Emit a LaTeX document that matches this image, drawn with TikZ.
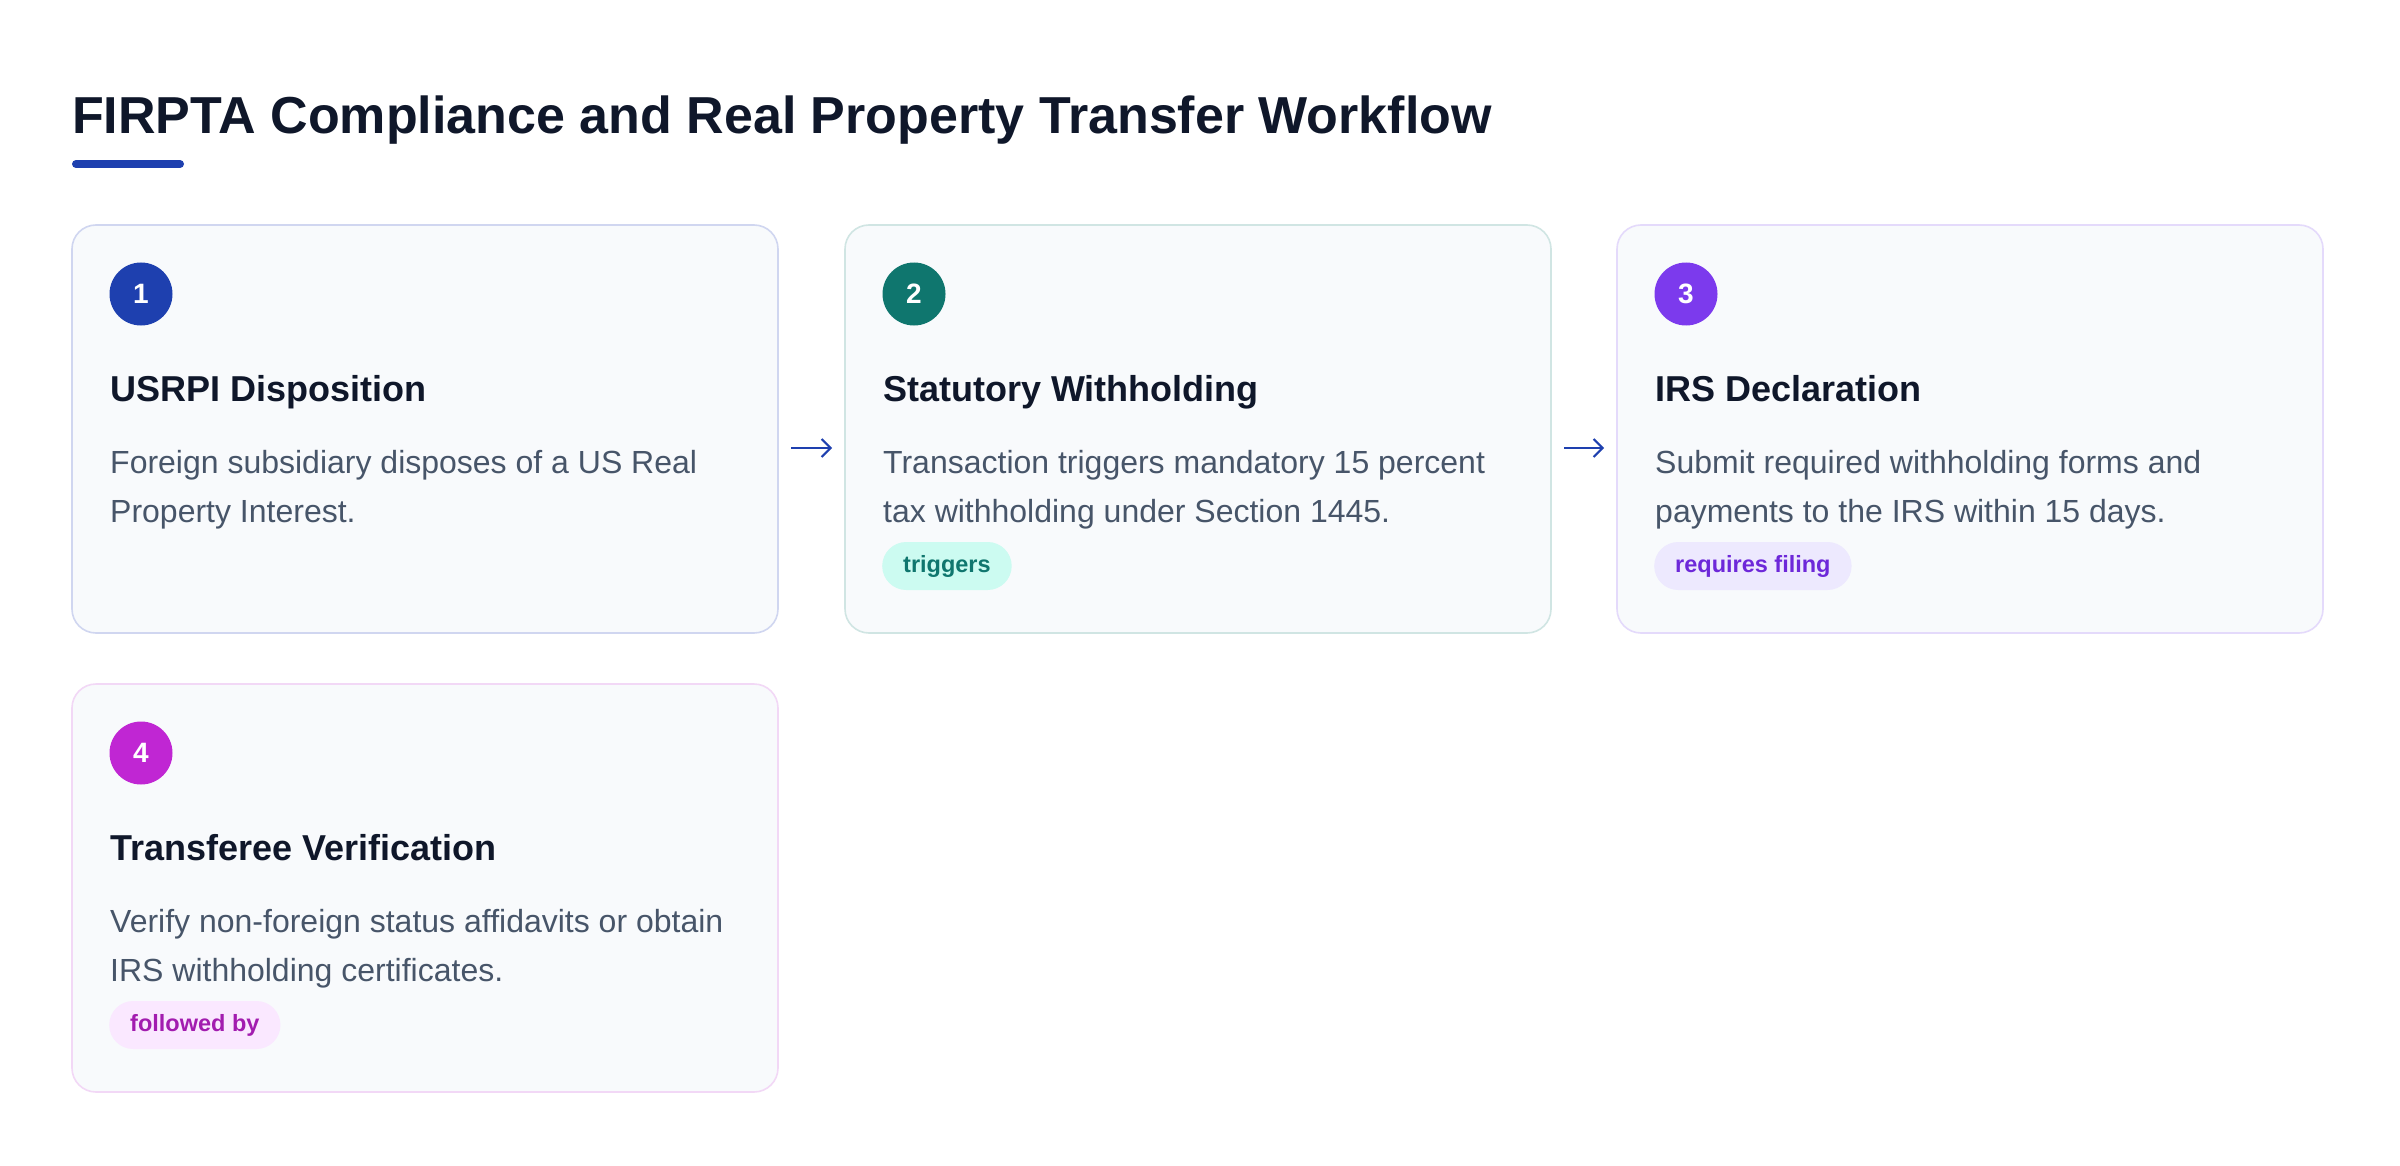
\documentclass[tikz,border=0pt]{standalone}
\usepackage{fontspec}
\setmainfont{Liberation Sans}
\usetikzlibrary{calc,arrows.meta}
\definecolor{ink}{HTML}{0F172A}
\definecolor{desc}{HTML}{475569}
\definecolor{cardbg}{HTML}{F8FAFC}
\definecolor{cblue}{HTML}{1E40AF}
\definecolor{cteal}{HTML}{0F766E}
\definecolor{cviolet}{HTML}{7C3AED}
\definecolor{cpink}{HTML}{C026D3}
\definecolor{bblue}{HTML}{D0D6F0}
\definecolor{bteal}{HTML}{D0E5E3}
\definecolor{bviolet}{HTML}{E4DAFB}
\definecolor{bpink}{HTML}{F2D8F6}
\definecolor{gteal}{HTML}{CCFBF1}
\definecolor{tteal}{HTML}{0F766E}
\definecolor{gviolet}{HTML}{EDE9FE}
\definecolor{tviolet}{HTML}{6D28D9}
\definecolor{gpink}{HTML}{FAE8FF}
\definecolor{tpink}{HTML}{A21CAF}
\tikzset{
  card/.style={draw=#1, line width=1.6pt, fill=cardbg, rounded corners=24pt,
    minimum width=706pt, minimum height=408pt, anchor=north west, inner sep=0pt, outer sep=0pt},
  numdot/.style={circle, fill=#1, minimum size=63pt, inner sep=0pt, text=white,
    font=\fontsize{28}{28}\selectfont\bfseries},
  heading/.style={anchor=base west, inner sep=0pt, text=ink, font=\fontsize{36}{42}\selectfont\bfseries},
  descline/.style={anchor=base west, inner sep=0pt, text=desc, font=\fontsize{32}{49}\selectfont},
  badge/.style={fill=#1, rounded corners=24pt, minimum height=48pt, inner xsep=21pt, inner ysep=0pt,
    anchor=west, font=\fontsize{23.5}{23.5}\selectfont\bfseries},
  flow/.style={draw=cblue, line width=2pt, -{Straight Barb[length=9pt,width=18pt,line width=2pt]},
    shorten <=13pt, shorten >=13pt}
}
\begin{document}
\begin{tikzpicture}[x=1pt,y=-1pt]
\useasboundingbox (0,0) rectangle (2400,1166);
\fill[white] (0,0) rectangle (2400,1166);

% title
\node[anchor=base west, inner sep=0pt, text=ink, font=\fontsize{52}{60}\selectfont\bfseries] (title) at (72,134)
  {FIRPTA Compliance and Real Property Transfer Workflow};
\draw[cblue, line width=8pt, line cap=round] (76,164) coordinate (barL) -- (180,164) coordinate (barR);

% cards
\node[card=bblue] (c1) at (72,225) {};
\node[card=bteal] (c2) at (845,225) {};
\node[card=bviolet] (c3) at (1617,225) {};
\node[card=bpink] (c4) at (72,684) {};

% card 1
\node[numdot=cblue] (n1) at ($(c1.north west)+(69,69)$) {1};
\node[heading] (h1) at ($(c1.north west)+(38,176)$) {USRPI Disposition};
\node[descline] (d1a) at ($(c1.north west)+(38,248)$) {Foreign subsidiary disposes of a US Real};
\node[descline] (d1b) at ($(c1.north west)+(38,297)$) {Property Interest.};

% card 2
\node[numdot=cteal] (n2) at ($(c2.north west)+(69,69)$) {2};
\node[heading] (h2) at ($(c2.north west)+(38,176)$) {Statutory Withholding};
\node[descline] (d2a) at ($(c2.north west)+(38,248)$) {Transaction triggers mandatory 15 percent};
\node[descline] (d2b) at ($(c2.north west)+(38,297)$) {tax withholding under Section 1445.};
\node[badge=gteal, text=tteal] (b2) at ($(c2.north west)+(37,341)$) {triggers};

% card 3
\node[numdot=cviolet] (n3) at ($(c3.north west)+(69,69)$) {3};
\node[heading] (h3) at ($(c3.north west)+(38,176)$) {IRS Declaration};
\node[descline] (d3a) at ($(c3.north west)+(38,248)$) {Submit required withholding forms and};
\node[descline] (d3b) at ($(c3.north west)+(38,297)$) {payments to the IRS within 15 days.};
\node[badge=gviolet, text=tviolet] (b3) at ($(c3.north west)+(37,341)$) {requires filing};

% card 4
\node[numdot=cpink] (n4) at ($(c4.north west)+(69,69)$) {4};
\node[heading] (h4) at ($(c4.north west)+(38,176)$) {Transferee Verification};
\node[descline] (d4a) at ($(c4.north west)+(38,248)$) {Verify non-foreign status affidavits or obtain};
\node[descline] (d4b) at ($(c4.north west)+(38,297)$) {IRS withholding certificates.};
\node[badge=gpink, text=tpink] (b4) at ($(c4.north west)+(37,341)$) {followed by};

% connectors
\draw[flow] ([yshift=-19pt]c1.east) -- ([yshift=-19pt]c2.west);
\draw[flow] ([yshift=-19pt]c2.east) -- ([yshift=-19pt]c3.west);
\end{tikzpicture}
\end{document}
